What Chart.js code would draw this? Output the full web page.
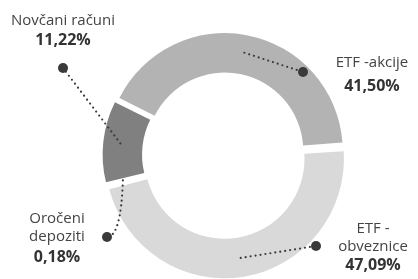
<!DOCTYPE html>
<html>
<head>
<meta charset="utf-8">
<script src="https://cdn.jsdelivr.net/npm/chart.js@4.4.0/dist/chart.umd.min.js"></script>
<style>
  html, body { margin: 0; padding: 0; background: #fff; }
  #wrap { width: 418px; height: 279px; }
</style>
</head>
<body>
<div id="wrap"><canvas id="donut" width="418" height="279"></canvas></div>
<script>
// slices in drawing order, clockwise from the right
var categories = ['ETF - obveznice', 'Oročeni depoziti', 'Novčani računi', 'ETF -akcije'];
var shares = [47.09, 0.18, 11.22, 41.50];
var nameLines = [['ETF -', 'obveznice'], ['Oročeni', 'depoziti'], ['Novčani računi'], ['ETF -akcije']];
var sliceColors = ['#d9d9d9', '#ffffff', '#808080', '#b3b3b3'];

// callout layout: dot, text centre x, baselines, optional bend of the dotted line
var callouts = [
  { dot: [316, 246], tx: 373, lines: [233, 251], pct: 270 },
  { dot: [107, 237], tx: 57, lines: [223, 241], pct: 262, bend: [121, 237] },
  { dot: [63, 68], tx: 63, lines: [25], pct: 45 },
  { dot: [303, 72], tx: 372, lines: [67], pct: 91 }
];

function pctText(v) {
  return v.toFixed(2).replace('.', ',') + '%';
}

var calloutPlugin = {
  id: 'callouts',
  afterDatasetsDraw: function(chart) {
    var ctx = chart.ctx;
    var arcs = chart.getDatasetMeta(0).data;
    ctx.save();
    callouts.forEach(function(c, i) {
      var p = arcs[i].getCenterPoint();
      // dotted leader
      ctx.beginPath();
      ctx.setLineDash([0, 5]);
      ctx.lineCap = 'round';
      ctx.lineWidth = 2.2;
      ctx.strokeStyle = '#3a3a3a';
      ctx.moveTo(p.x, p.y);
      if (c.bend) ctx.quadraticCurveTo(c.bend[0], c.bend[1], c.dot[0], c.dot[1]);
      else ctx.lineTo(c.dot[0], c.dot[1]);
      ctx.stroke();
      ctx.setLineDash([]);
      ctx.beginPath();
      ctx.fillStyle = '#3a3a3a';
      ctx.arc(c.dot[0], c.dot[1], 5, 0, Math.PI * 2);
      ctx.fill();
      // texts
      ctx.textAlign = 'center';
      ctx.textBaseline = 'alphabetic';
      ctx.fillStyle = '#444444';
      ctx.font = '15px "Open Sans"';
      nameLines[i].forEach(function(t, k) {
        ctx.fillText(t, c.tx, c.lines[k]);
      });
      ctx.fillStyle = '#333333';
      ctx.font = 'bold 16px "Open Sans"';
      ctx.fillText(pctText(shares[i]), c.tx, c.pct);
    });
    ctx.restore();
  }
};

var chart = new Chart(document.getElementById('donut'), {
  type: 'doughnut',
  data: {
    labels: categories,
    datasets: [{
      data: shares,
      backgroundColor: sliceColors,
      borderWidth: 0,
      offset: 16,
      hoverOffset: 0
    }]
  },
  options: {
    responsive: false,
    animation: false,
    rotation: 86,
    cutout: '66%',
    layout: { padding: { top: 31, bottom: 0, left: 100, right: 70 } },
    plugins: {
      legend: { display: false },
      tooltip: { enabled: false }
    },
    events: []
  },
  plugins: [calloutPlugin]
});
</script>
</body>
</html>
